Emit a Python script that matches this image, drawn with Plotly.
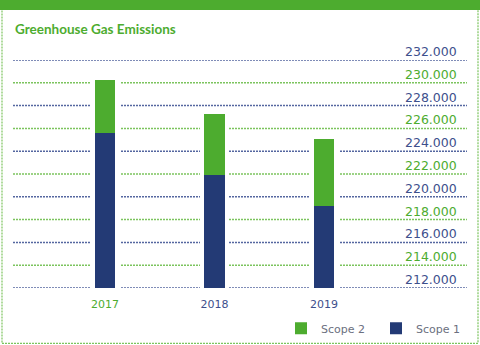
import plotly.graph_objects as go

years = ["2017", "2018", "2019"]
scope1 = [225560, 221920, 219170]
scope2 = [4690, 5340, 5890]
tick_values = [212000, 214000, 216000, 218000, 220000, 222000, 224000, 226000, 228000, 230000, 232000]
tick_labels = ["212.000", "214.000", "216.000", "218.000", "220.000", "222.000", "224.000", "226.000", "228.000", "230.000", "232.000"]

GREEN = "#4dac2f"
NAVY = "#233a75"
BLUE_TXT = "#3d4f8c"
GRID_GREEN = "#7cc45e"
GRID_BLUE = "#5567a0"
FONT = "DejaVu Sans"

xpos = list(range(len(years)))
totals = [a + b for a, b in zip(scope1, scope2)]

fig = go.Figure()
# white halo behind bars to interrupt gridlines
fig.add_trace(go.Bar(x=xpos, y=totals, base=0, width=0.27, marker=dict(color="white", line=dict(width=0)),
                     showlegend=False, hoverinfo="skip"))
fig.add_trace(go.Bar(x=xpos, y=scope1, base=0, width=0.183, name="Scope 1",
                     marker=dict(color=NAVY, line=dict(width=0))))
fig.add_trace(go.Bar(x=xpos, y=scope2, base=scope1, width=0.183, name="Scope 2",
                     marker=dict(color=GREEN, line=dict(width=0))))

shapes = []
annotations = []
for i, (v, lab) in enumerate(zip(tick_values, tick_labels)):
    col = GRID_BLUE if i % 2 == 0 else GRID_GREEN
    tcol = BLUE_TXT if i % 2 == 0 else GREEN
    shapes.append(dict(type="line", xref="paper", yref="y", x0=0, x1=1, y0=v, y1=v,
                       line=dict(color=col, width=1.5, dash="2px,1px"), layer="below"))
    annotations.append(dict(xref="paper", yref="y", x=0.982, y=v, text=lab, showarrow=False,
                            xanchor="right", yanchor="bottom", yshift=-1,
                            font=dict(family=FONT, size=12.5, color=tcol)))

# top band and dotted frame
L, W, T, H = 13, 454, 60, 227.7
def px(xp): return (xp - L) / W
def py(yp): return (T + H - yp) / H
shapes.append(dict(type="rect", xref="paper", yref="paper", x0=px(0), x1=px(480), y0=py(10), y1=py(0),
                   fillcolor=GREEN, line=dict(width=0), layer="above"))
shapes.append(dict(type="rect", xref="paper", yref="paper", x0=px(2), x1=px(478), y0=py(343), y1=py(5),
                   line=dict(color=GRID_GREEN, width=1.2, dash="2px,1px"), layer="below"))

annotations.append(dict(xref="paper", yref="paper", x=px(13), y=py(29), text="<b>Greenhouse Gas Emissions</b>",
                        showarrow=False, xanchor="left", yanchor="middle",
                        font=dict(family="Lato", size=13.5, color=GREEN)))

xlab_colors = [GREEN, BLUE_TXT, BLUE_TXT]
ticktext = [f'<span style="color:{c}">{y}</span>' for y, c in zip(years, xlab_colors)]

fig.update_layout(
    width=480, height=345,
    margin=dict(l=L, r=480 - L - W, t=T, b=345 - T - H, autoexpand=False),
    paper_bgcolor="white", plot_bgcolor="white",
    barmode="overlay",
    bargap=0,
    showlegend=True,
    legend=dict(orientation="h", x=px(281), xanchor="left", y=py(328), yanchor="middle",
                traceorder="reversed", font=dict(family=FONT, size=11, color="#6b6f80"),
                entrywidth=50, entrywidthmode="pixels", bgcolor="rgba(0,0,0,0)"),
    xaxis=dict(range=[-0.840, 3.306], tickvals=xpos, ticktext=ticktext, showgrid=False, zeroline=False,
               showline=False, ticks="", ticklabelstandoff=8,
               tickfont=dict(family=FONT, size=11, color=BLUE_TXT), fixedrange=True),
    yaxis=dict(range=[212000, 232000], showgrid=False, zeroline=False, showticklabels=False,
               showline=False, ticks="", fixedrange=True),
    shapes=shapes, annotations=annotations,
)

fig.write_html("out.html")
